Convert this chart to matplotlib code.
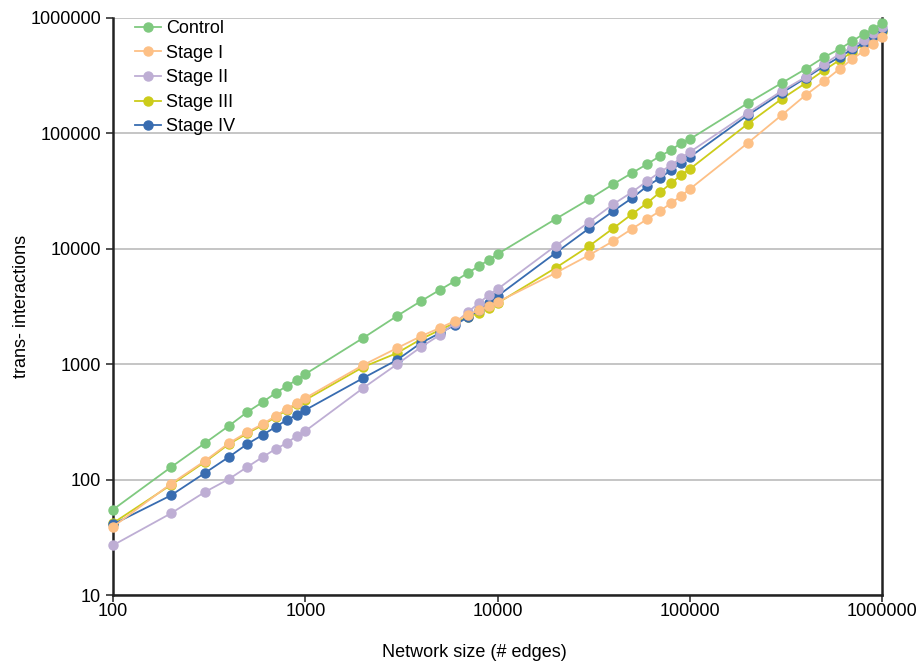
import matplotlib
matplotlib.use("Agg")
import matplotlib.pyplot as plt
from matplotlib.ticker import FixedLocator, NullLocator

plt.rcParams["font.family"] = ["Liberation Sans", "DejaVu Sans"]

# network sizes (# edges)
sizes = [100, 200, 300, 400, 500, 600, 700, 800, 900, 1000,
         2000, 3000, 4000, 5000, 6000, 7000, 8000, 9000, 10000,
         20000, 30000, 40000, 50000, 60000, 70000, 80000, 90000, 100000,
         200000, 300000, 400000, 500000, 600000, 700000, 800000, 900000, 1000000]

control = [55, 128, 207, 292, 386, 470, 562, 647, 730, 822,
           1690, 2620, 3530, 4400, 5260, 6170, 7100, 8000, 9020,
           18100, 27000, 36400, 45400, 54300, 63700, 71800, 82600, 89300,
           183000, 273000, 362000, 459000, 538000, 632000, 726000, 803000, 905000]

stage1 = [39, 92, 145, 207, 258, 303, 356, 409, 461, 509,
          984, 1380, 1750, 2060, 2370, 2670, 2950, 3190, 3460,
          6170, 8840, 11700, 14900, 18100, 21300, 25000, 28700, 33000,
          82600, 144000, 215000, 284000, 362000, 441000, 518000, 595000, 684000]

stage2 = [27, 51, 78, 101, 129, 157, 184, 207, 239, 264,
          622, 1000, 1410, 1790, 2280, 2830, 3390, 3980, 4480,
          10600, 17100, 24400, 31000, 38700, 46300, 53200, 61200, 69000,
          150000, 233000, 308000, 399000, 488000, 561000, 644000, 741000, 836000]

stage3 = [42, 90, 142, 203, 252, 297, 348, 400, 450, 490,
          946, 1250, 1650, 1980, 2280, 2570, 2780, 3070, 3390,
          6820, 10600, 15100, 20000, 25000, 31000, 37100, 43600, 49200,
          121000, 199000, 273000, 354000, 432000, 507000, 595000, 671000, 757000]

stage4 = [41, 73, 114, 157, 204, 244, 286, 328, 363, 401,
          759, 1090, 1530, 1860, 2190, 2560, 2950, 3390, 3900,
          9200, 15100, 21300, 27500, 35000, 41100, 48200, 55400, 62500,
          144000, 224000, 302000, 384000, 459000, 538000, 607000, 698000, 787000]

labels = ["Control", "Stage I", "Stage II", "Stage III", "Stage IV"]
series = [control, stage1, stage2, stage3, stage4]
colors = ["#7fc97f", "#fdc086", "#beaed4", "#cccc1a", "#386cb0"]
zorders = [7, 6, 5, 3, 4]

decades = [10, 100, 1000, 10000, 100000, 1000000]

fig = plt.figure(figsize=(9.19, 6.61), dpi=100)
ax = fig.add_axes([0.123, 0.0998, 0.837, 0.873])

for lab, vals, col, z in zip(labels, series, colors, zorders):
    ax.plot(sizes, vals, color=col, marker="o", markersize=6.5, linewidth=1.3,
            label=lab, zorder=z, clip_on=False)

ax.set_xscale("log")
ax.set_yscale("log")
ax.set_xlim(100, 1000000)
ax.set_ylim(10, 1000000)

ax.xaxis.set_major_locator(FixedLocator(decades[1:]))
ax.yaxis.set_major_locator(FixedLocator(decades))
ax.xaxis.set_minor_locator(NullLocator())
ax.yaxis.set_minor_locator(NullLocator())
ax.set_xticklabels([str(d) for d in decades[1:]])
ax.set_yticklabels([str(d) for d in decades])
ax.tick_params(axis="both", labelsize=13, length=5, width=1.2, color="#333333")
ax.tick_params(axis="x", pad=1)

ax.grid(axis="y", color="#bbbbbb", linewidth=1.2)
ax.set_axisbelow(True)
ax.spines["top"].set_visible(False)
for s in ["left", "bottom", "right"]:
    ax.spines[s].set_linewidth(1.8)
    ax.spines[s].set_color("#222222")

ax.set_xlabel("Network size (# edges)", fontsize=13)
ax.set_ylabel("trans- interactions", fontsize=13)
ax.xaxis.set_label_coords(0.47, -0.085)
ax.yaxis.set_label_coords(-0.108, 0.5)

ax.legend(loc="upper left", frameon=False, fontsize=13, handlelength=1.4,
          handletextpad=0.3, labelspacing=0.42, borderaxespad=0.2,
          bbox_to_anchor=(0.015, 1.015))

fig.savefig("out.png", dpi=100)
